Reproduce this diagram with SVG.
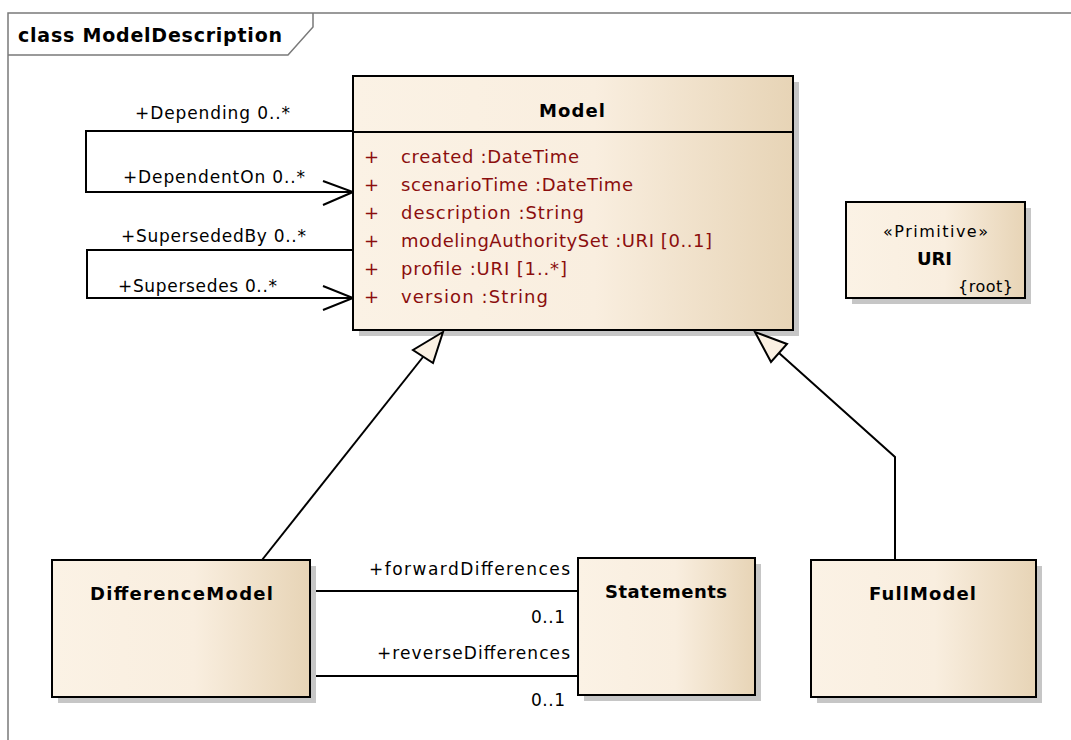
<svg xmlns="http://www.w3.org/2000/svg" width="1071" height="740" viewBox="0 0 1071 740">
<defs>
<linearGradient id="fillG" x1="0" y1="0" x2="1" y2="0">
<stop offset="0" stop-color="#FBF2E5"/>
<stop offset="0.55" stop-color="#F9EEDF"/>
<stop offset="1" stop-color="#E7D4B6"/>
</linearGradient>
<style>
.box{fill:url(#fillG);stroke:#000;stroke-width:2}
.shadow{fill:#C6C6C6}
.title{font-family:"DejaVu Sans",sans-serif;font-weight:bold;font-size:18px;fill:#000}
.attr{font-family:"DejaVu Sans",sans-serif;font-size:18px;fill:#8B0E0E}
.lbl{font-family:"DejaVu Sans",sans-serif;font-size:17px;fill:#000}
.small{font-family:"DejaVu Sans",sans-serif;font-size:16px;fill:#000}
.ln{fill:none;stroke:#000;stroke-width:2}
.tri{fill:#FAF0E2;stroke:#000;stroke-width:2;stroke-linejoin:miter}
.frame{fill:none;stroke:#7A7A7A;stroke-width:1.5}
</style>
</defs>
<rect width="1071" height="740" fill="#fff"/>

<g id="frame">
<path class="frame" d="M8,760 L8,13 L1071,13"/>
<path class="frame" d="M313,13 L313,27 L288,55 L8,55"/>
<text x="18" y="42" font-family="DejaVu Sans, sans-serif" font-weight="bold" font-size="19" textLength="264" lengthAdjust="spacing">class ModelDescription</text>
</g>

<g id="connectors">
<polyline class="ln" points="353,131 86,131 86,192 353,192"/>
<polyline class="ln" points="323,181 353,192 323,205"/>
<polyline class="ln" points="353,250 87,250 87,298 353,298"/>
<polyline class="ln" points="323,286 353,298 323,310"/>
<line class="ln" x1="262" y1="560" x2="423" y2="357"/>
<polyline class="ln" points="895,560 895,457 779,353"/>
<line class="ln" x1="310" y1="591" x2="578" y2="591"/>
<line class="ln" x1="310" y1="676" x2="578" y2="676"/>
<text class="lbl" x="135" y="119" textLength="155" lengthAdjust="spacing">+Depending 0..*</text>
<text class="lbl" x="123" y="183" textLength="182" lengthAdjust="spacing">+DependentOn 0..*</text>
<text class="lbl" x="121" y="242" textLength="185" lengthAdjust="spacing">+SupersededBy 0..*</text>
<text class="lbl" x="118" y="292" textLength="159" lengthAdjust="spacing">+Supersedes 0..*</text>
<text class="lbl" x="369" y="575" textLength="201" lengthAdjust="spacing">+forwardDifferences</text>
<text class="lbl" x="531" y="623" textLength="34" lengthAdjust="spacing">0..1</text>
<text class="lbl" x="377" y="659" textLength="193" lengthAdjust="spacing">+reverseDifferences</text>
<text class="lbl" x="531" y="706" textLength="34" lengthAdjust="spacing">0..1</text>
</g>

<g id="Model">
<rect class="shadow" x="359" y="82" width="440" height="254"/>
<rect class="box" x="353" y="76" width="440" height="254"/>
<line x1="353" y1="132" x2="793" y2="132" stroke="#000" stroke-width="2"/>
<text class="title" x="539" y="117" textLength="66" lengthAdjust="spacing">Model</text>
<g class="attr">
<text x="364" y="163">+</text><text x="401" y="163" textLength="178" lengthAdjust="spacing">created :DateTime</text>
<text x="364" y="191">+</text><text x="401" y="191" textLength="232" lengthAdjust="spacing">scenarioTime :DateTime</text>
<text x="364" y="219">+</text><text x="401" y="219" textLength="183" lengthAdjust="spacing">description :String</text>
<text x="364" y="247">+</text><text x="401" y="247" textLength="311" lengthAdjust="spacing">modelingAuthoritySet :URI [0..1]</text>
<text x="364" y="275">+</text><text x="401" y="275" textLength="166" lengthAdjust="spacing">profile :URI [1..*]</text>
<text x="364" y="303">+</text><text x="401" y="303" textLength="147" lengthAdjust="spacing">version :String</text>
</g>
</g>

<g id="generalizations">
<polygon class="tri" points="443,332 413,350 433,363"/>
<polygon class="tri" points="755,332 771,362 787,344"/>
</g>

<g id="URI">
<rect class="shadow" x="852" y="208" width="179" height="96"/>
<rect class="box" x="846" y="202" width="179" height="96"/>
<text class="small" x="883" y="237" textLength="105" lengthAdjust="spacing">«Primitive»</text>
<text class="title" x="917" y="265" textLength="35" lengthAdjust="spacing">URI</text>
<text class="small" x="958" y="292" textLength="55" lengthAdjust="spacing">{root}</text>
</g>

<g id="DifferenceModel">
<rect class="shadow" x="58" y="566" width="258" height="137"/>
<rect class="box" x="52" y="560" width="258" height="137"/>
<text class="title" x="90" y="600" textLength="183" lengthAdjust="spacing">DifferenceModel</text>
</g>

<g id="Statements">
<rect class="shadow" x="584" y="564" width="177" height="137"/>
<rect class="box" x="578" y="558" width="177" height="137"/>
<text class="title" x="605" y="598" textLength="122" lengthAdjust="spacing">Statements</text>
</g>

<g id="FullModel">
<rect class="shadow" x="817" y="566" width="225" height="137"/>
<rect class="box" x="811" y="560" width="225" height="137"/>
<text class="title" x="869" y="600" textLength="107" lengthAdjust="spacing">FullModel</text>
</g>
</svg>
